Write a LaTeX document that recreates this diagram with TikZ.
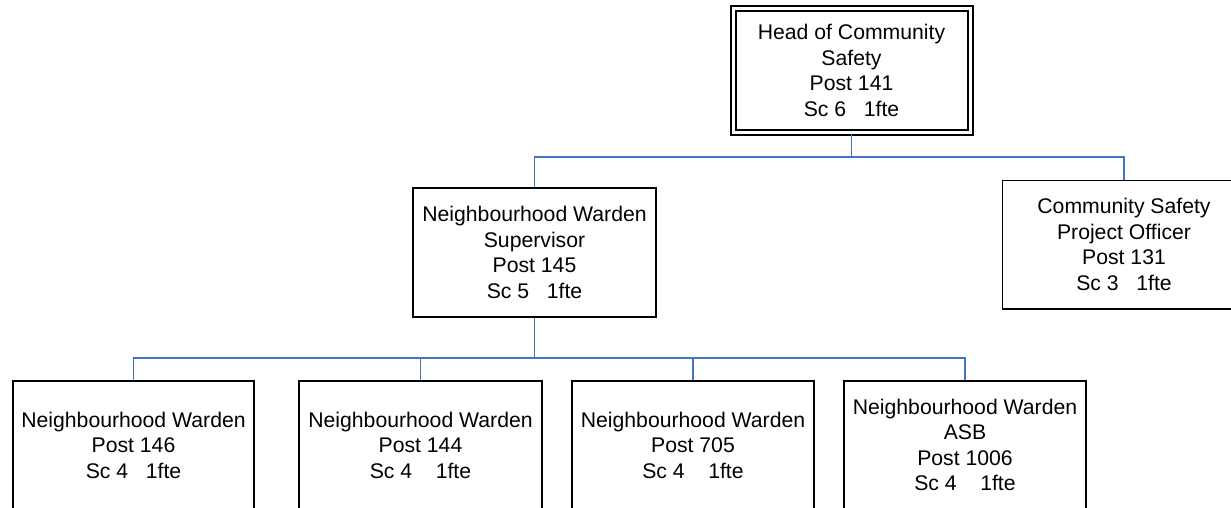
\documentclass[tikz,border=0pt]{standalone}
\usepackage{fontspec}
\setmainfont{Liberation Sans}
\definecolor{linkblue}{RGB}{68,114,196}
\begin{document}
\begin{tikzpicture}[x=1pt,y=-1pt,
  post/.style={draw=black, line width=1.5pt, fill=white, rectangle,
    align=center, inner sep=0pt, minimum height=128pt,
    font=\fontsize{21.2}{25.5}\selectfont},
  headpost/.style={post, line width=2pt, double=white, double distance=3pt,
    minimum width=237pt, minimum height=124pt},
  edge/.style={draw=black, line width=1.5pt},
  link/.style={draw=linkblue, line width=1.5pt}]
\useasboundingbox (0,0) rectangle (1231,507);
\clip (0,0) rectangle (1231,507);
\fill[white] (0,0) rectangle (1231,507);

% head of section
\node[headpost] (head) at (851.5,70.5)
  {Head of Community\\Safety\\Post 141\\Sc 6\ \ \ 1fte};

% second tier
\node[post, minimum width=243pt, minimum height=129pt] (sup) at (534.5,252.5)
  {Neighbourhood Warden\\Supervisor\\Post 145\\Sc 5\ \ \ 1fte};
% this box runs past the right margin, so only three sides are drawn
\node[post, draw=none, minimum width=242pt, minimum height=127pt] (cso) at (1124,244.5)
  {Community Safety\\Project Officer\\Post 131\\Sc 3\ \ \ 1fte};
\draw[edge] (cso.north east) -- (cso.north west) -- (cso.south west) -- (cso.south east);

% wardens
\node[post, minimum width=241pt] (w1) at (133.5,445)
  {Neighbourhood Warden\\Post 146\\Sc 4\ \ \ 1fte};
\node[post, minimum width=243pt] (w2) at (420.5,445)
  {Neighbourhood Warden\\Post 144\\Sc 4\ \ \ \ 1fte};
\node[post, minimum width=242pt] (w3) at (693,445)
  {Neighbourhood Warden\\Post 705\\Sc 4\ \ \ \ 1fte};
\node[post, minimum width=242pt] (w4) at (965,445)
  {Neighbourhood Warden\\ASB\\Post 1006\\Sc 4\ \ \ \ 1fte};

% reporting lines
\coordinate (bus1) at (head.south |- 0,157);
\coordinate (bus2) at (sup.south |- 0,358);
\draw[link] (head.south) -- (bus1);
\draw[link] (bus1) -| (sup.north);
\draw[link] (bus1) -| (cso.north);
\draw[link] (sup.south) -- (bus2);
\draw[link] (bus2) -| (w1.north);
\draw[link] (bus2) -| (w2.north);
\draw[link] (bus2) -| (w3.north);
\draw[link] (bus2) -| (w4.north);
\end{tikzpicture}
\end{document}
